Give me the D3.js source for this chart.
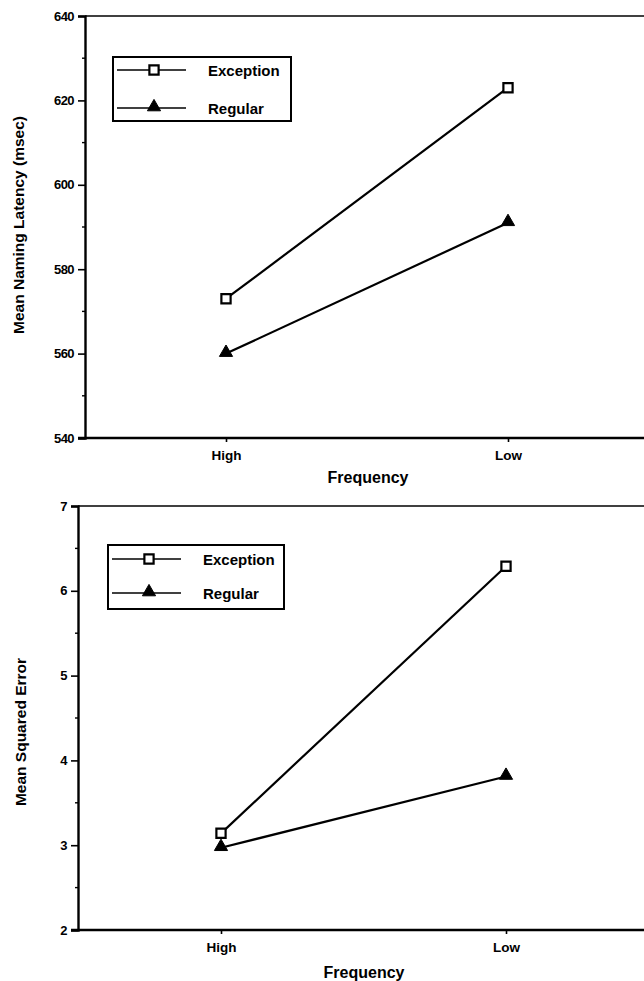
<!DOCTYPE html>
<html><head><meta charset="utf-8">
<script src="https://cdn.jsdelivr.net/npm/d3@7"></script>
<style>
html,body{margin:0;padding:0;background:#fff;}
svg{display:block;font-family:"Liberation Sans",Arial,sans-serif;}
</style></head>
<body>
<svg id="c" width="644" height="981"></svg>
<script>
const categories = ["High", "Low"];
const seriesNames = ["Exception", "Regular"];
// Top panel: Mean naming latency (msec)
const latencyException = [573, 623];
const latencyRegular = [560, 591];
const latencyTicks = [540, 560, 580, 600, 620, 640];
// Bottom panel: Mean squared error
const mseException = [3.14, 6.29];
const mseRegular = [2.97, 3.81];
const mseTicks = [2, 3, 4, 5, 6, 7];

const svg = d3.select("#c");

function panel(cfg) {
  const g = svg.append("g");
  const x = d3.scalePoint().domain(categories).range(cfg.xr);
  const y = d3.scaleLinear().domain(cfg.yd).range(cfg.yr);
  const x0 = cfg.axisX, right = 644;
  // frame top & bottom
  g.append("line").attr("x1", x0).attr("x2", right).attr("y1", y(cfg.yd[1])).attr("y2", y(cfg.yd[1]))
    .attr("stroke", "#000").attr("stroke-width", 1.6);
  // y axis
  const ya = d3.axisLeft(y).tickValues(cfg.ticks).tickSize(7).tickPadding(4).tickFormat(d3.format("d"));
  const yg = g.append("g").attr("transform", `translate(${x0},0)`).call(ya);
  yg.select(".domain").attr("stroke-width", 2.4);
  yg.selectAll(".tick line").attr("stroke-width", 1.6);
  yg.selectAll(".tick text").attr("font-size", 13).attr("font-weight", "bold").attr("font-family", "Liberation Sans, Arial, sans-serif").attr("letter-spacing", -0.6);
  // minor ticks
  const minors = d3.pairs(cfg.ticks).map(p => (p[0] + p[1]) / 2);
  g.selectAll(".minor").data(minors).join("line")
    .attr("x1", x0 - 3).attr("x2", x0).attr("y1", d => y(d)).attr("y2", d => y(d))
    .attr("stroke", "#000").attr("stroke-width", 1.4);
  // x axis
  g.append("line").attr("x1", x0 - 7).attr("x2", right).attr("y1", y(cfg.yd[0])).attr("y2", y(cfg.yd[0]))
    .attr("stroke", "#000").attr("stroke-width", 2.4);
  const xa = d3.axisBottom(x).tickSize(4).tickPadding(8);
  const xg = g.append("g").attr("transform", `translate(0,${y(cfg.yd[0])})`).call(xa);
  xg.select(".domain").remove();
  xg.selectAll(".tick line").attr("stroke-width", 1.6);
  xg.selectAll(".tick text").attr("font-size", 13.5).attr("font-weight", "bold").attr("font-family", "Liberation Sans, Arial, sans-serif");
  // axis titles
  g.append("text").attr("x", cfg.xTitle[0]).attr("y", cfg.xTitle[1]).attr("text-anchor", "middle")
    .attr("font-size", 16).attr("font-weight", "bold").text("Frequency");
  g.append("text").attr("transform", `translate(${cfg.yTitle[0]},${cfg.yTitle[1]}) rotate(-90)`)
    .attr("text-anchor", "middle").attr("font-size", cfg.yTitleSize).attr("font-weight", "bold").text(cfg.yLabel);
  // series
  const line = d3.line().x((d, i) => x(categories[i])).y(d => y(d));
  [cfg.ex, cfg.re].forEach(vals => {
    g.append("path").attr("d", line(vals)).attr("fill", "none").attr("stroke", "#000").attr("stroke-width", 2.2);
  });
  const sq = d3.symbol().type(d3.symbolSquare).size(85);
  const tri = d3.symbol().type(d3.symbolTriangle).size(75);
  g.selectAll(".ex").data(cfg.ex).join("path")
    .attr("transform", (d, i) => `translate(${x(categories[i])},${y(d)})`)
    .attr("d", sq).attr("fill", "#fff").attr("stroke", "#000").attr("stroke-width", 2.2);
  g.selectAll(".re").data(cfg.re).join("path")
    .attr("transform", (d, i) => `translate(${x(categories[i])},${y(d) - 1})`)
    .attr("d", tri).attr("fill", "#000").attr("stroke", "#000").attr("stroke-width", 1);
  // legend
  const L = cfg.legend;
  g.append("rect").attr("x", L.x).attr("y", L.y).attr("width", L.w).attr("height", L.h)
    .attr("fill", "#fff").attr("stroke", "#000").attr("stroke-width", 2);
  const rows = [{name: seriesNames[0], sym: sq, fill: "#fff", dy: L.r1}, {name: seriesNames[1], sym: tri, fill: "#000", dy: L.r2}];
  rows.forEach(r => {
    const yy = L.y + r.dy;
    g.append("line").attr("x1", L.x + 4).attr("x2", L.x + 73).attr("y1", yy).attr("y2", yy)
      .attr("stroke", "#000").attr("stroke-width", 1.5);
    g.append("path").attr("transform", `translate(${L.x + 41},${r.fill === "#000" ? yy - 1 : yy})`).attr("d", r.sym)
      .attr("fill", r.fill).attr("stroke", "#000").attr("stroke-width", r.fill === "#000" ? 1 : 2.2);
    g.append("text").attr("x", L.x + L.tx).attr("y", yy + 5.5).attr("font-size", 15).attr("font-weight", "bold").text(r.name);
  });
}

panel({
  xr: [226, 508], yd: [540, 640], yr: [438, 16], ticks: latencyTicks, axisX: 85,
  ex: latencyException, re: latencyRegular,
  xTitle: [368, 483], yTitle: [24, 225], yTitleSize: 15.5, yLabel: "Mean Naming Latency (msec)",
  legend: {x: 113, y: 57, w: 178, h: 64, r1: 13, r2: 51, tx: 95}
});
panel({
  xr: [221, 506], yd: [2, 7], yr: [930, 506], ticks: mseTicks, axisX: 78,
  ex: mseException, re: mseRegular,
  xTitle: [364, 978], yTitle: [26, 732], yTitleSize: 15.5, yLabel: "Mean Squared Error",
  legend: {x: 108, y: 545, w: 176, h: 64, r1: 14, r2: 48, tx: 95}
});
</script>
</body></html>
